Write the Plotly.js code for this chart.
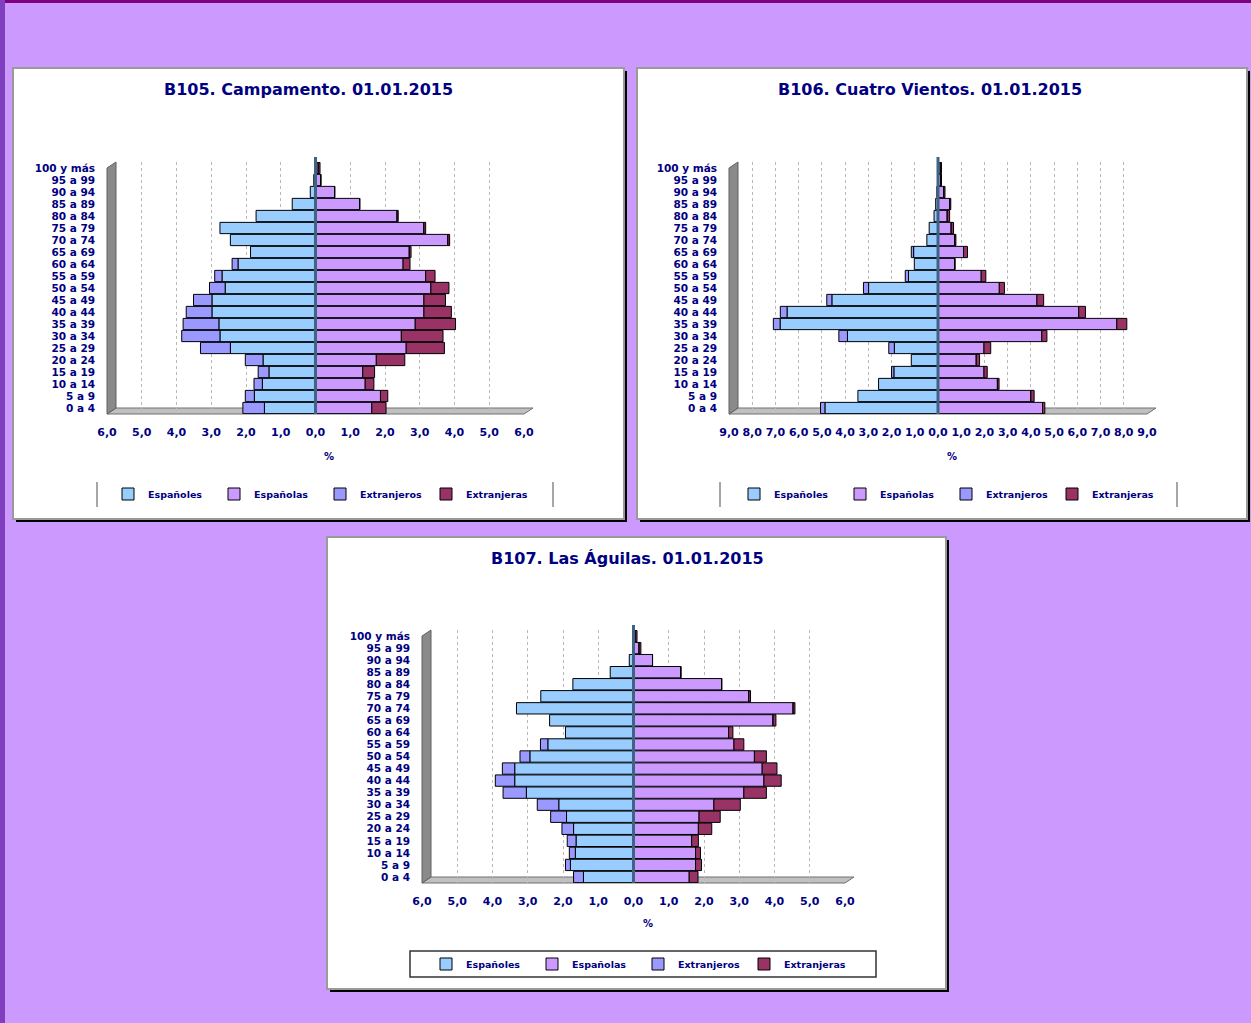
<!DOCTYPE html>
<html>
<head>
<meta charset="utf-8">
<script src="https://cdn.plot.ly/plotly-3.0.1.min.js"></script>
<style>html,body{margin:0;padding:0;background:#CC99FF;}#chart{width:1251px;height:1023px;}</style>
</head>
<body>
<div id="chart"></div>
<script>
// Age groups (bottom to top)
const ages = ['0 a 4','5 a 9','10 a 14','15 a 19','20 a 24','25 a 29','30 a 34','35 a 39','40 a 44','45 a 49','50 a 54','55 a 59','60 a 64','65 a 69','70 a 74','75 a 79','80 a 84','85 a 89','90 a 94','95 a 99','100 y más'];
const seriesNames = ['Españoles','Españolas','Extranjeros','Extranjeras'];
const titles = ['B105. Campamento. 01.01.2015','B106. Cuatro Vientos. 01.01.2015','B107. Las Águilas. 01.01.2015'];

// B105 Campamento (%)
const b105_espH = [1.47,1.76,1.53,1.34,1.51,2.45,2.75,2.78,2.98,2.98,2.60,2.69,2.23,1.87,2.45,2.75,1.71,0.67,0.15,0.05,0.02];
const b105_espM = [1.62,1.87,1.43,1.36,1.75,2.61,2.47,2.87,3.12,3.12,3.32,3.17,2.52,2.70,3.81,3.12,2.35,1.27,0.55,0.15,0.08];
const b105_extH = [0.62,0.26,0.24,0.31,0.51,0.86,1.10,1.03,0.74,0.53,0.45,0.21,0.17,0,0,0,0,0,0,0,0];
const b105_extM = [0.41,0.21,0.25,0.34,0.82,1.10,1.20,1.16,0.79,0.62,0.52,0.27,0.20,0.05,0.05,0.05,0.03,0,0,0,0.05];

// B106 Cuatro Vientos (%)
const b106_espH = [4.87,3.45,2.56,1.90,1.15,1.88,3.90,6.80,6.50,4.57,2.99,1.27,1.02,1.05,0.48,0.38,0.17,0.10,0.05,0.02,0];
const b106_espM = [4.50,4.00,2.56,1.98,1.65,1.98,4.47,7.70,6.06,4.26,2.64,1.86,0.72,1.10,0.72,0.57,0.40,0.50,0.25,0.12,0.10];
const b106_extH = [0.19,0,0,0.10,0,0.24,0.37,0.29,0.29,0.22,0.22,0.14,0,0.10,0,0,0,0,0,0,0];
const b106_extM = [0.10,0.14,0.07,0.14,0.14,0.29,0.22,0.43,0.29,0.29,0.22,0.20,0,0.17,0.05,0.10,0.10,0.05,0.05,0.03,0.05];

// B107 Las Águilas (%)
const b107_espH = [1.42,1.79,1.65,1.63,1.70,1.90,2.12,3.04,3.37,3.37,2.94,2.43,1.93,2.38,3.32,2.63,1.72,0.66,0.12,0.02,0];
const b107_espM = [1.58,1.76,1.76,1.65,1.84,1.86,2.28,3.13,3.70,3.65,3.43,2.85,2.70,3.96,4.53,3.27,2.50,1.34,0.54,0.16,0.05];
const b107_extH = [0.28,0.14,0.17,0.25,0.33,0.45,0.61,0.66,0.55,0.35,0.28,0.21,0,0,0,0,0,0,0,0,0];
const b107_extM = [0.25,0.17,0.14,0.19,0.38,0.60,0.75,0.64,0.49,0.42,0.34,0.28,0.12,0.08,0.05,0.05,0,0,0,0.05,0.05];

// Tick labels
const ticks6 = [-6,-5,-4,-3,-2,-1,0,1,2,3,4,5,6];
const ticks6Text = ['6,0','5,0','4,0','3,0','2,0','1,0','0,0','1,0','2,0','3,0','4,0','5,0','6,0'];
const ticks9 = [-9,-8,-7,-6,-5,-4,-3,-2,-1,0,1,2,3,4,5,6,7,8,9];
const ticks9Text = ['9,0','8,0','7,0','6,0','5,0','4,0','3,0','2,0','1,0','0,0','1,0','2,0','3,0','4,0','5,0','6,0','7,0','8,0','9,0'];

const colors = ['#99CCFF','#CC99FF','#9999FF','#993366'];

const W = 1251, H = 1023;
const px = v => v / W;
const py = v => 1 - v / H;

const charts = [
  {data:[b105_espH,b105_espM,b105_extH,b105_extM], range:6, tv:ticks6, tt:ticks6Text,
   x0:107, x1:524, yt:162, yb:414, title:[308,89], pct:[329,456], legend:[108,494],
   panel:[13,68,624,519], lbox:[97,553,482,507], boxFull:false},
  {data:[b106_espH,b106_espM,b106_extH,b106_extM], range:9, tv:ticks9, tt:ticks9Text,
   x0:729, x1:1147, yt:162, yb:414, title:[930,89], pct:[952,456], legend:[734,494],
   panel:[637,68,1247,519], lbox:[720,1177,482,507], boxFull:false},
  {data:[b107_espH,b107_espM,b107_extH,b107_extM], range:6, tv:ticks6, tt:ticks6Text,
   x0:422, x1:845, yt:630, yb:883, title:[627,558], pct:[648,923], legend:[426,964],
   panel:[327,537,946,989], lbox:[410,876,951,977], boxFull:true}
];

const navy = '#000080';
const tickFont = {family:'DejaVu Sans', size:11, color:navy, weight:'bold'};
const traces = [];
const layout = {
  width:W, height:H, margin:{l:0,r:0,t:0,b:0},
  paper_bgcolor:'#CC99FF', plot_bgcolor:'rgba(0,0,0,0)',
  barmode:'relative', bargap:0.06, showlegend:true,
  shapes:[], annotations:[]
};

// page borders
layout.shapes.push({type:'line', xref:'paper', yref:'paper', x0:px(0), x1:px(W), y0:py(1.5), y1:py(1.5), line:{color:'#800080', width:3}, layer:'below'});
layout.shapes.push({type:'line', xref:'paper', yref:'paper', x0:px(2.5), x1:px(2.5), y0:py(0), y1:py(H), line:{color:'#7F3FBF', width:5}, layer:'below'});

charts.forEach((c, i) => {
  const n = i === 0 ? '' : String(i + 1);
  const xa = 'x' + n, ya = 'y' + n;
  const lg = 'legend' + n;
  // panel shadow and body
  const [a,b,cc,d] = c.panel;
  layout.shapes.push({type:'rect', xref:'paper', yref:'paper', x0:px(a+3), x1:px(cc+3), y0:py(d+3), y1:py(b+3), fillcolor:'#000000', line:{width:0}, layer:'below'});
  layout.shapes.push({type:'rect', xref:'paper', yref:'paper', x0:px(a), x1:px(cc), y0:py(d), y1:py(b), fillcolor:'#FFFFFF', line:{color:'#9A9A9A', width:2}, layer:'below'});
  // 3D floor and wall
  const dx = 9, dy = 6;
  layout.shapes.push({type:'path', xref:'paper', yref:'paper', layer:'below',
    path:`M${px(c.x0)},${py(c.yb)} L${px(c.x1)},${py(c.yb)} L${px(c.x1+dx)},${py(c.yb-dy)} L${px(c.x0+dx)},${py(c.yb-dy)} Z`,
    fillcolor:'#C0C0C0', line:{color:'#707070', width:1}});
  layout.shapes.push({type:'path', xref:'paper', yref:'paper', layer:'below',
    path:`M${px(c.x0)},${py(c.yb)} L${px(c.x0)},${py(c.yt+dy)} L${px(c.x0+dx)},${py(c.yt)} L${px(c.x0+dx)},${py(c.yb-dy)} Z`,
    fillcolor:'#8A8A8A', line:{color:'#606060', width:1}});
  // legend frame
  if (c.boxFull) {
    layout.shapes.push({type:'rect', xref:'paper', yref:'paper', x0:px(c.lbox[0]), x1:px(c.lbox[1]), y0:py(c.lbox[3]), y1:py(c.lbox[2]), line:{color:'#333333', width:1.5}, fillcolor:'rgba(0,0,0,0)', layer:'below'});
  } else {
    [c.lbox[0], c.lbox[1]].forEach(xv => layout.shapes.push({type:'line', xref:'paper', yref:'paper', x0:px(xv), x1:px(xv), y0:py(c.lbox[3]), y1:py(c.lbox[2]), line:{color:'#888888', width:1.5}, layer:'below'}));
  }
  // zero axis line
  layout.shapes.push({type:'line', xref:xa, yref:ya + ' domain', x0:0, x1:0, y0:0, y1:1.02, line:{color:'#3D6482', width:3}, layer:'above'});

  c.data.forEach((arr, k) => {
    const left = (k === 0 || k === 2);
    traces.push({
      type:'bar', orientation:'h', name:seriesNames[k], y:ages,
      x:arr.map(v => left ? -v : v),
      xaxis:xa, yaxis:ya, legend:lg,
      marker:{color:colors[k], line:{color:'#000000', width:1}},
      hovertemplate:'%{y}: %{customdata:.2f}%<extra>'+seriesNames[k]+'</extra>',
      customdata:arr
    });
  });

  layout['xaxis' + n] = {
    domain:[px(c.x0), px(c.x1)], range:[-c.range, c.range], anchor:ya,
    tickmode:'array', tickvals:c.tv, ticktext:c.tt, tickfont:tickFont, ticks:'', ticklabelstandoff:10,
    showgrid:true, gridcolor:'#B8B8B8', griddash:'dot', gridwidth:1,
    zeroline:false, showline:false, fixedrange:true
  };
  layout['yaxis' + n] = {
    domain:[py(c.yb), py(c.yt)], type:'category', categoryorder:'array', categoryarray:ages,
    range:[-0.5, ages.length - 0.5], anchor:xa,
    tickmode:'array', tickvals:ages, ticktext:ages,
    tickfont:{family:'DejaVu Sans', size:10.5, color:navy, weight:'bold'}, ticks:'', ticklabelstandoff:11,
    showgrid:false, zeroline:false, showline:false, fixedrange:true
  };
  layout[lg] = {
    orientation:'h', x:px(c.legend[0]), y:py(c.legend[1]), xanchor:'left', yanchor:'middle',
    xref:'paper', yref:'paper',
    font:{family:'DejaVu Sans', size:9.5, color:navy, weight:'bold'},
    bgcolor:'rgba(0,0,0,0)', traceorder:'normal', entrywidth:61, entrywidthmode:'pixels',
    itemclick:false, itemdoubleclick:false
  };
  layout.annotations.push({xref:'paper', yref:'paper', x:px(c.title[0]), y:py(c.title[1]), text:titles[i], showarrow:false,
    xanchor:'center', yanchor:'middle', font:{family:'DejaVu Sans', size:16, color:navy, weight:'bold'}});
  layout.annotations.push({xref:'paper', yref:'paper', x:px(c.pct[0]), y:py(c.pct[1]), text:'%', showarrow:false,
    xanchor:'center', yanchor:'middle', font:{family:'DejaVu Sans', size:10, color:navy, weight:'bold'}});
});

Plotly.newPlot('chart', traces, layout, {displayModeBar:false, staticPlot:false});
</script>
</body>
</html>
